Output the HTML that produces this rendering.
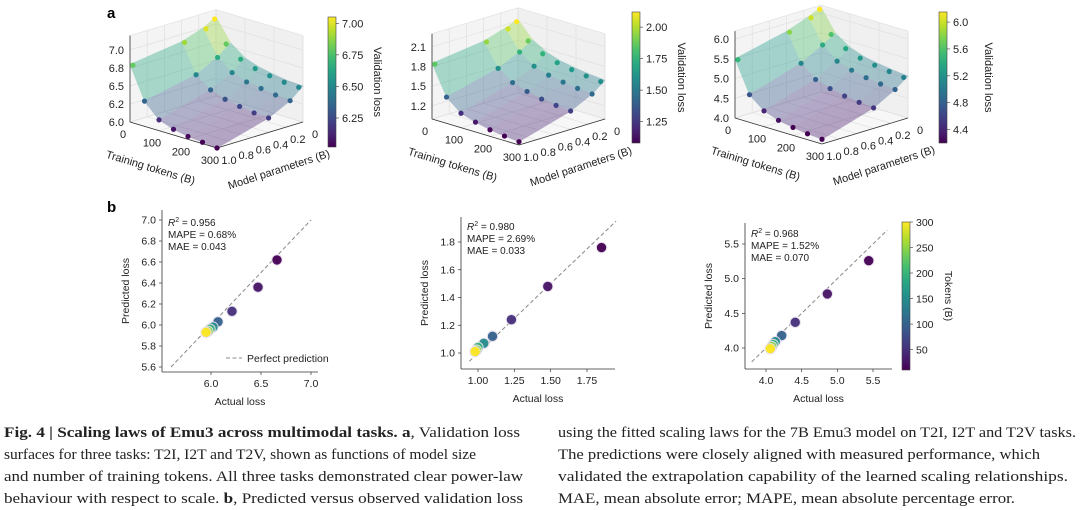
<!DOCTYPE html>
<html><head><meta charset="utf-8">
<style>
html,body{margin:0;padding:0;background:#fff;}
svg{display:block;font-family:"Liberation Sans",sans-serif;}
</style></head>
<body>
<svg id="fig" width="1080" height="510" viewBox="0 0 1080 510">
<text x="107" y="18" font-size="15" font-weight="bold">a</text>
<text x="107" y="212" font-size="15" font-weight="bold">b</text>
<g id="caption" font-family="'Liberation Serif',serif" font-size="15" fill="#222">
<text x="4" y="437" textLength="516" lengthAdjust="spacingAndGlyphs"><tspan font-weight="bold">Fig. 4 | Scaling laws of Emu3 across multimodal tasks. a</tspan>, Validation loss</text>
<text x="4" y="459" textLength="472" lengthAdjust="spacingAndGlyphs">surfaces for three tasks: T2I, I2T and T2V, shown as functions of model size</text>
<text x="4" y="481" textLength="519" lengthAdjust="spacingAndGlyphs">and number of training tokens. All three tasks demonstrated clear power-law</text>
<text x="4" y="503" textLength="519" lengthAdjust="spacingAndGlyphs">behaviour with respect to scale. <tspan font-weight="bold">b</tspan>, Predicted versus observed validation loss</text>
<text x="558" y="437" textLength="518" lengthAdjust="spacingAndGlyphs">using the fitted scaling laws for the 7B Emu3 model on T2I, I2T and T2V tasks.</text>
<text x="558" y="459" textLength="482" lengthAdjust="spacingAndGlyphs">The predictions were closely aligned with measured performance, which</text>
<text x="558" y="481" textLength="510" lengthAdjust="spacingAndGlyphs">validated the extrapolation capability of the learned scaling relationships.</text>
<text x="558" y="503" textLength="457" lengthAdjust="spacingAndGlyphs">MAE, mean absolute error; MAPE, mean absolute percentage error.</text>
</g>
</svg>
<script>
// ---- data: panel a (surfaces) ----
const tokensA = [10, 50, 100, 150, 200, 250, 300];
const modelsA = [1.0, 0.4, 0.15, 0.05];
const lossT2I = [[6.8,6.35,6.15,6.08,6.04,6.02,6.0],[6.9,6.5,6.35,6.28,6.24,6.21,6.2],[7.0,6.65,6.5,6.43,6.4,6.37,6.35],[7.1,6.8,6.65,6.58,6.54,6.51,6.5]];
const lossI2T = [[1.85,1.4,1.22,1.15,1.1,1.07,1.05],[1.95,1.6,1.45,1.38,1.33,1.3,1.28],[2.05,1.75,1.6,1.53,1.49,1.46,1.44],[2.12,1.88,1.75,1.68,1.64,1.61,1.59]];
const lossT2V = [[5.5,4.7,4.4,4.27,4.2,4.15,4.12],[5.8,5.1,4.8,4.68,4.6,4.55,4.52],[6.0,5.4,5.1,4.98,4.9,4.85,4.82],[6.15,5.6,5.35,5.22,5.15,5.1,5.06]];
const zTicks1 = [6.0,6.25,6.5,6.75,7.0];
const zLabels1 = ['6.0','6.2','6.5','6.8','7.0'];
const zTicks2 = [1.2,1.5,1.8,2.1];
const zLabels2 = ['1.2','1.5','1.8','2.1'];
const zTicks3 = [4.0,4.5,5.0,5.5,6.0];
const zLabels3 = ['4.0','4.5','5.0','5.5','6.0'];
const cbTicks1 = [6.25,6.5,6.75,7.0];
const cbTicks2 = [1.25,1.5,1.75,2.0];
const cbTicks3 = [4.4,4.8,5.2,5.6,6.0];
const tokenTicks = [0,100,200,300];
const paramTicks = [0,0.2,0.4,0.6,0.8,1.0];
// ---- data: panel b (scatter) ----
const tokensB = [10,25,50,100,150,200,250,300];
const actual1 = [6.66,6.47,6.21,6.07,6.02,5.99,5.97,5.95];
const pred1   = [6.62,6.36,6.13,6.03,5.98,5.96,5.94,5.93];
const actual2 = [1.85,1.48,1.23,1.10,1.04,1.00,0.99,0.98];
const pred2   = [1.76,1.48,1.24,1.12,1.07,1.04,1.02,1.01];
const actual3 = [5.44,4.86,4.41,4.22,4.13,4.10,4.08,4.06];
const pred3   = [5.26,4.78,4.37,4.18,4.09,4.05,4.02,3.99];
const yTicksB1=[5.6,5.8,6.0,6.2,6.4,6.6,6.8,7.0], xTicksB1=[6.0,6.5,7.0];
const yTicksB2=[1.0,1.2,1.4,1.6,1.8], xTicksB2=[1.0,1.25,1.5,1.75];
const yTicksB3=[4.0,4.5,5.0,5.5], xTicksB3=[4.0,4.5,5.0,5.5];
const tokCbTicks=[50,100,150,200,250,300];

const NS="http://www.w3.org/2000/svg";
const svg=document.getElementById('fig');
function el(tag,attrs,parent){const e=document.createElementNS(NS,tag);for(const k in attrs)e.setAttribute(k,attrs[k]);(parent||svg).appendChild(e);return e;}
const VIR=[[68,1,84],[72,40,120],[62,73,137],[49,104,142],[38,130,142],[31,158,137],[53,183,121],[110,206,88],[181,222,43],[253,231,37]];
function viridis(t){t=Math.max(0,Math.min(1,t));const s=t*(VIR.length-1);const i=Math.min(VIR.length-2,Math.floor(s));const f=s-i;const a=VIR[i],b=VIR[i+1];return `rgb(${a.map((v,j)=>Math.round(v+(b[j]-v)*f)).join(',')})`;}

function panelA(cfg){
  const g=el('g',{});
  
  
  const P=(u,v,z)=>[cfg.F[0]-87*(1-u)+86*(1-v), cfg.F[1]-26*(1-u)-26*(1-v)-(z-cfg.z0)*cfg.k];
  const pt=a=>a.map(p=>p.join(',')).join(' ');
  const zt=cfg.zTop;
  el('polygon',{points:pt([P(0,1,cfg.z0),P(0,0,cfg.z0),P(0,0,zt),P(0,1,zt)]),fill:'#f4f4f4',stroke:'#ddd','stroke-width':0.6},g);
  el('polygon',{points:pt([P(0,0,cfg.z0),P(1,0,cfg.z0),P(1,0,zt),P(0,0,zt)]),fill:'#f0f0f0',stroke:'#ddd','stroke-width':0.6},g);
  el('polygon',{points:pt([P(0,1,cfg.z0),P(1,1,cfg.z0),P(1,0,cfg.z0),P(0,0,cfg.z0)]),fill:'#f7f7f7',stroke:'#ddd','stroke-width':0.6},g);
  const gl={stroke:'#e0e0e0','stroke-width':0.7};
  tokenTicks.forEach(t=>{const u=t/300;let a=P(u,1,cfg.z0),b=P(u,0,cfg.z0),c=P(u,0,zt);el('polyline',Object.assign({points:pt([a,b,c]),fill:'none'},gl),g);});
  paramTicks.forEach(m=>{let a=P(1,m,cfg.z0),b=P(0,m,cfg.z0),c=P(0,m,zt);el('polyline',Object.assign({points:pt([a,b,c]),fill:'none'},gl),g);});
  cfg.zTicks.forEach(z=>{el('polyline',Object.assign({points:pt([P(0,1,z),P(0,0,z),P(1,0,z)]),fill:'none'},gl),g);});
  el('line',{x1:P(0,1,cfg.z0)[0],y1:P(0,1,cfg.z0)[1],x2:P(0,1,zt)[0],y2:P(0,1,zt)[1],stroke:'#333','stroke-width':0.8},g);
  el('line',{x1:P(0,1,cfg.z0)[0],y1:P(0,1,cfg.z0)[1],x2:P(1,1,cfg.z0)[0],y2:P(1,1,cfg.z0)[1],stroke:'#333','stroke-width':0.8},g);
  el('line',{x1:P(1,1,cfg.z0)[0],y1:P(1,1,cfg.z0)[1],x2:P(1,0,cfg.z0)[0],y2:P(1,0,cfg.z0)[1],stroke:'#333','stroke-width':0.8},g);
  const sg=el('g',{opacity:0.38},g);
  
  
  const rows=cfg.loss;const quads=[];
  for(let i=0;i<modelsA.length-1;i++)for(let j=0;j<tokensA.length-1;j++){
    const u0=j===0?0:tokensA[j]/300,u1=tokensA[j+1]/300;
    const v0=modelsA[i],v1=i===modelsA.length-2?0:modelsA[i+1];
    const zs=[rows[i][j],rows[i][j+1],rows[i+1][j+1],rows[i+1][j]];
    quads.push({pts:[P(u0,v0,zs[0]),P(u1,v0,zs[1]),P(u1,v1,zs[2]),P(u0,v1,zs[3])],z:(zs[0]+zs[1]+zs[2]+zs[3])/4,d:u0+v0});
  }
  quads.sort((a,b)=>a.d-b.d);
  quads.forEach(q=>{const c=viridis((q.z-cfg.cmin)/(cfg.cmax-cfg.cmin));el('polygon',{points:pt(q.pts),fill:c,stroke:c,'stroke-width':0.6},sg);});
  for(let i=modelsA.length-1;i>=0;i--)for(let j=0;j<tokensA.length;j++){
    const z=rows[i][j];const p=P(tokensA[j]/300,modelsA[i],z);
    const d=el('circle',{cx:p[0],cy:p[1],r:2.6,fill:viridis((z-cfg.cmin)/(cfg.cmax-cfg.cmin))},g);
    
    
  }
  cfg.zTicks.forEach((z,i)=>{const p=P(0,1,z);el('text',{x:p[0]-6,y:p[1]+4,'font-size':11,'text-anchor':'end',fill:'#222'},g).textContent=cfg.zLabels[i];});
  tokenTicks.forEach(t=>{const p=P(t/300,1,cfg.z0);el('text',{x:p[0]-7,y:p[1]+16,'font-size':11,'text-anchor':'middle',fill:'#222'},g).textContent=t;});
  paramTicks.forEach(m=>{const p=P(1,m,cfg.z0);el('text',{x:p[0]+12,y:p[1]+16,'font-size':11,'text-anchor':'middle',fill:'#222'},g).textContent=m===0?'0':m.toFixed(1);});
  const fl=P(0.5,1,cfg.z0);
  let t1=el('text',{x:fl[0]-24,y:fl[1]+36,'font-size':11,'text-anchor':'middle',transform:`rotate(17 ${fl[0]-24} ${fl[1]+36})`,fill:'#222'},g);t1.textContent='Training tokens (B)';
  
  const fr=P(1,0.5,cfg.z0);
  let t2=el('text',{x:fr[0]+20,y:fr[1]+38,'font-size':11,'text-anchor':'middle',transform:`rotate(-18 ${fr[0]+20} ${fr[1]+38})`,fill:'#222'},g);t2.textContent='Model parameters (B)';
  
  colorbar(g,cfg.cb[0],cfg.cb[1],cfg.cb[2],cfg.cmin,cfg.cmax,cfg.cbTicks,cfg.cbFmt,'Validation loss',cfg.name+'-colorbar');
}
let gradN=0;
function colorbar(g,x,y0,y1,vmin,vmax,ticks,fmt,label,name){
  const id='cbg'+(gradN++);
  const defs=el('defs',{},g);const lg=el('linearGradient',{id:id,x1:0,y1:1,x2:0,y2:0},defs);
  for(let i=0;i<=10;i++)el('stop',{offset:i/10,'stop-color':viridis(i/10)},lg);
  const r=el('rect',{x:x,y:y0,width:8,height:y1-y0,fill:`url(#${id})`,stroke:'#444','stroke-width':0.6},g);
  
  
  const Y=v=>y1-(v-vmin)/(vmax-vmin)*(y1-y0);
  ticks.forEach(v=>{el('line',{x1:x+8,x2:x+11,y1:Y(v),y2:Y(v),stroke:'#333','stroke-width':0.6},g);el('text',{x:x+14,y:Y(v)+4,'font-size':11,fill:'#222'},g).textContent=fmt(v);});
  const lx=x+46,ly=(y0+y1)/2;
  const t=el('text',{x:lx,y:ly,'font-size':11,'text-anchor':'middle',transform:`rotate(90 ${lx} ${ly})`,fill:'#222'},g);t.textContent=label;
  
  
}
panelA({name:'t2i-surface-plot',F:[217,148],z0:6.0,k:72,zTop:7.2,loss:lossT2I,zTicks:zTicks1,zLabels:zLabels1,cmin:6.02,cmax:7.05,cb:[328,17,147],cbTicks:cbTicks1,cbFmt:v=>v.toFixed(2)});
panelA({name:'i2t-surface-plot',F:[519,145],z0:1.0,k:65.6,zTop:2.3,loss:lossI2T,zTicks:zTicks2,zLabels:zLabels2,cmin:1.08,cmax:2.12,cb:[632,12,143],cbTicks:cbTicks2,cbFmt:v=>v.toFixed(2)});
panelA({name:'t2v-surface-plot',F:[822,144],z0:4.0,k:39.5,zTop:6.2,loss:lossT2V,zTicks:zTicks3,zLabels:zLabels3,cmin:4.2,cmax:6.15,cb:[939,12,143],cbTicks:cbTicks3,cbFmt:v=>v.toFixed(1)});

function panelB(cfg){
  const g=el('g',{});
  
  
  const X=v=>cfg.xa[0]+(v-cfg.xd[0])/(cfg.xd[1]-cfg.xd[0])*(cfg.xa[1]-cfg.xa[0]);
  const Y=v=>cfg.ya[0]+(v-cfg.yd[0])/(cfg.yd[1]-cfg.yd[0])*(cfg.ya[1]-cfg.ya[0]);
  el('line',{x1:cfg.ax,y1:cfg.top,x2:cfg.ax,y2:cfg.bot,stroke:'#333','stroke-width':0.8},g);
  el('line',{x1:cfg.ax,y1:cfg.bot,x2:cfg.right,y2:cfg.bot,stroke:'#333','stroke-width':0.8},g);
  cfg.yt.forEach(v=>{el('line',{x1:cfg.ax-3,x2:cfg.ax,y1:Y(v),y2:Y(v),stroke:'#333','stroke-width':0.7},g);el('text',{x:cfg.ax-6,y:Y(v)+3.5,'font-size':10.5,'text-anchor':'end',fill:'#222'},g).textContent=v.toFixed(1);});
  cfg.xt.forEach(v=>{el('line',{x1:X(v),x2:X(v),y1:cfg.bot,y2:cfg.bot+3,stroke:'#333','stroke-width':0.7},g);el('text',{x:X(v),y:cfg.bot+15,'font-size':10.5,'text-anchor':'middle',fill:'#222'},g).textContent=cfg.xf(v);});
  const dl=el('line',{x1:X(cfg.diag[0]),y1:Y(cfg.diag[0]),x2:X(cfg.diag[1]),y2:Y(cfg.diag[1]),stroke:'#888','stroke-width':1,'stroke-dasharray':'4,2.5'},g);
  
  
  for(let i=0;i<cfg.act.length;i++){
    const c=viridis((tokensB[i]-10)/290);
    el('line',{x1:X(cfg.act[i]),x2:X(cfg.act[i]),y1:Y(cfg.pred[i])-5,y2:Y(cfg.pred[i])+5,stroke:'#f0b0c0','stroke-width':1},g);
    const p=el('circle',{cx:X(cfg.act[i]),cy:Y(cfg.pred[i]),r:5.2,fill:c,stroke:'#e8e0ee','stroke-width':1,opacity:0.95},g);
    
    
  }
  const sx=cfg.ax+6;
  const st=el('text',{x:sx,y:cfg.sy,'font-size':10,fill:'#222'},g);
  st.innerHTML=`<tspan font-style="italic">R</tspan><tspan dy="-4" font-size="7">2</tspan><tspan dy="4"> = ${cfg.stats[0]}</tspan>`;
  
  el('text',{x:sx,y:cfg.sy+12,'font-size':10,fill:'#222'},g).textContent='MAPE = '+cfg.stats[1];
  el('text',{x:sx,y:cfg.sy+24,'font-size':10,fill:'#222'},g).textContent='MAE = '+cfg.stats[2];
  const cx=(cfg.ax+cfg.right)/2;
  el('text',{x:cx,y:cfg.bot+33,'font-size':10.5,'text-anchor':'middle',fill:'#222'},g).textContent='Actual loss';
  const ly=(cfg.top+cfg.bot)/2,lx=cfg.ax-33;
  el('text',{x:lx,y:ly,'font-size':10.5,'text-anchor':'middle',transform:`rotate(-90 ${lx} ${ly})`,fill:'#222'},g).textContent='Predicted loss';
  return g;
}
const b1=panelB({name:'t2i-prediction-scatter',ax:162,top:210,bot:372,right:318,xa:[211,311],xd:[6.0,7.0],ya:[367,220],yd:[5.6,7.0],yt:yTicksB1,xt:xTicksB1,xf:v=>v.toFixed(1),diag:[5.6,7.0],act:actual1,pred:pred1,sy:226,stats:['0.956','0.68%','0.043']});
const lg=el('g',{},b1);


el('line',{x1:226,x2:242,y1:358,y2:358,stroke:'#888','stroke-width':1,'stroke-dasharray':'4,2.5'},lg);
el('text',{x:247,y:362,'font-size':10.5,fill:'#222'},lg).textContent='Perfect prediction';
panelB({name:'i2t-prediction-scatter',ax:461,top:217,bot:369,right:615,xa:[478,587],xd:[1.0,1.75],ya:[353,242],yd:[1.0,1.8],yt:yTicksB2,xt:xTicksB2,xf:v=>v.toFixed(2),diag:[0.94,1.95],act:actual2,pred:pred2,sy:230,stats:['0.980','2.69%','0.033']});
const b3=panelB({name:'t2v-prediction-scatter',ax:745,top:223,bot:369,right:892,xa:[766,873],xd:[4.0,5.5],ya:[348,244],yd:[4.0,5.5],yt:yTicksB3,xt:xTicksB3,xf:v=>v.toFixed(1),diag:[3.8,5.7],act:actual3,pred:pred3,sy:237,stats:['0.968','1.52%','0.070']});
(function(){
  const x=902,y0=222,y1=370,vmin=10,vmax=300;
  const id='tokg';const defs=el('defs',{},b3);const lgd=el('linearGradient',{id:id,x1:0,y1:1,x2:0,y2:0},defs);
  for(let i=0;i<=10;i++)el('stop',{offset:i/10,'stop-color':viridis(i/10)},lgd);
  const r=el('rect',{x:x,y:y0,width:8,height:y1-y0,fill:'url(#tokg)',stroke:'#444','stroke-width':0.6},b3);
  
  
  const Y=v=>y1-(v-vmin)/(vmax-vmin)*(y1-y0);
  tokCbTicks.forEach(v=>{el('line',{x1:x+8,x2:x+11,y1:Y(v),y2:Y(v),stroke:'#333','stroke-width':0.6},b3);el('text',{x:x+14,y:Y(v)+4,'font-size':10.5,fill:'#222'},b3).textContent=v;});
  const t=el('text',{x:945,y:296,'font-size':10.5,'text-anchor':'middle',transform:'rotate(90 945 296)',fill:'#222'},b3);t.textContent='Tokens (B)';
  
  
})();
</script>
</body></html>
